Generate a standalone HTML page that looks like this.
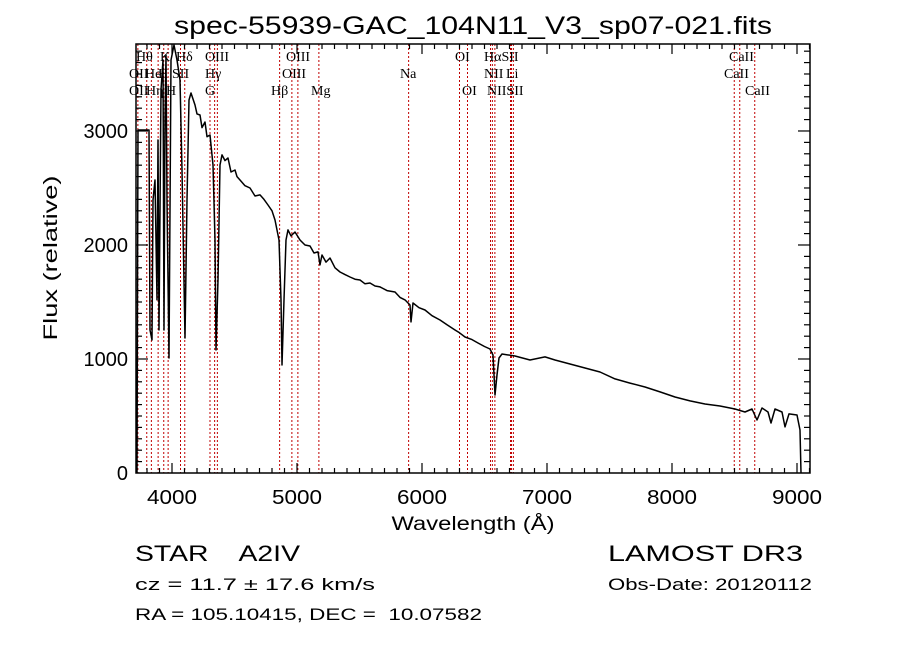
<!DOCTYPE html>
<html><head><meta charset="utf-8">
<style>
html,body{margin:0;padding:0;background:#fff;}
svg{display:block;}
text{fill:#000;white-space:pre;}
.s{font-family:"Liberation Sans",sans-serif;}
.r{font-family:"Liberation Serif",serif;font-size:14px;}
</style></head>
<body>
<svg id="chart" width="900" height="649" viewBox="0 0 900 649" xmlns="http://www.w3.org/2000/svg">
<rect x="0" y="0" width="900" height="649" fill="#fff"/>
<text class="s" x="473" y="34" font-size="25" text-anchor="middle" textLength="598" lengthAdjust="spacingAndGlyphs">spec-55939-GAC_104N11_V3_sp07-021.fits</text>
<g id="lines"></g>
<g id="labels">
<text class="r" x="136" y="61">Hθ</text>
<text class="r" x="160" y="61">K</text>
<text class="r" x="176" y="61">Hδ</text>
<text class="r" x="205" y="61">OIII</text>
<text class="r" x="286" y="61">OIII</text>
<text class="r" x="400" y="78">Na</text>
<text class="r" x="455" y="61">OI</text>
<text class="r" x="484" y="61">HαSII</text>
<text class="r" x="729" y="61">CaII</text>
<text class="r" x="129" y="78">OII</text>
<text class="r" x="145" y="78">He</text>
<text class="r" x="158" y="78">H</text>
<text class="r" x="172" y="78">SII</text>
<text class="r" x="205" y="78">Hγ</text>
<text class="r" x="282" y="78">OIII</text>
<text class="r" x="484" y="78">NII</text>
<text class="r" x="506" y="78">Li</text>
<text class="r" x="724" y="78">CaII</text>
<text class="r" x="129" y="95">OII</text>
<text class="r" x="146" y="95">Hη</text>
<text class="r" x="166" y="95">H</text>
<text class="r" x="205" y="95">G</text>
<text class="r" x="271" y="95">Hβ</text>
<text class="r" x="311" y="95">Mg</text>
<text class="r" x="462" y="95">OI</text>
<text class="r" x="487" y="95">NIISII</text>
<text class="r" x="745" y="95">CaII</text>
</g>
<g id="axes"></g>
<polyline id="spec" fill="none" stroke="#000" stroke-width="1.5" stroke-linejoin="round"/>
<text class="s" x="473" y="530" font-size="19" text-anchor="middle" textLength="163" lengthAdjust="spacingAndGlyphs">Wavelength (Å)</text>
<text class="s" x="0" y="0" font-size="19" text-anchor="middle" textLength="165" lengthAdjust="spacingAndGlyphs" transform="translate(57,258) rotate(-90)">Flux (relative)</text>
<text class="s" x="135" y="561" font-size="22" textLength="165" lengthAdjust="spacingAndGlyphs">STAR    A2IV</text>
<text class="s" x="135" y="590" font-size="17" textLength="240" lengthAdjust="spacingAndGlyphs">cz = 11.7 ± 17.6 km/s</text>
<text class="s" x="135" y="620" font-size="17" textLength="347" lengthAdjust="spacingAndGlyphs">RA = 105.10415, DEC =  10.07582</text>
<text class="s" x="608" y="561" font-size="22" textLength="195" lengthAdjust="spacingAndGlyphs">LAMOST DR3</text>
<text class="s" x="608" y="590" font-size="17" textLength="204" lengthAdjust="spacingAndGlyphs">Obs-Date: 20120112</text>
</svg>
<script>
const wavelengths=[3720,3724,3728,3736,3744,3752,3760,3768,3776,3784,3792,3800,3808,3816,3824,3840,3848,3864,3880,3888,3896,3912,3928,3936,3944,3952,3960,3976,3992,4016,4040,4064,4080,4104,4120,4136,4152,4184,4200,4224,4240,4264,4280,4304,4328,4344,4352,4368,4384,4400,4424,4448,4472,4504,4520,4544,4584,4624,4664,4704,4736,4768,4800,4824,4856,4872,4880,4896,4912,4928,4952,4984,5024,5064,5104,5136,5168,5184,5200,5232,5264,5304,5344,5384,5424,5464,5504,5544,5584,5624,5664,5720,5784,5824,5864,5904,5912,5928,5976,6024,6080,6144,6200,6264,6300,6344,6400,6448,6500,6544,6568,6576,6584,6600,6616,6640,6744,6864,6984,7064,7184,7304,7424,7544,7664,7784,7904,8024,8144,8264,8384,8504,8584,8640,8680,8720,8768,8792,8824,8880,8904,8936,9000,9024,9032];
const fluxes=[0,1600,3009,3009,3009,3009,3009,3009,3009,3009,3009,3009,3009,3009,1254,1167,2395,2570,1518,2921,1254,3360,3623,1254,3097,3667,2395,1009,3623,3754,3623,3447,2658,1184,2395,3272,3333,3228,3150,3140,3030,3079,2950,2965,2702,2044,1079,1693,2702,2790,2740,2763,2640,2658,2600,2570,2520,2500,2430,2439,2400,2351,2300,2219,2044,1518,947,1518,2044,2132,2080,2114,2044,2000,1991,1930,1939,1825,1912,1850,1886,1800,1763,1740,1719,1700,1693,1660,1667,1640,1632,1600,1588,1540,1518,1474,1325,1491,1450,1430,1380,1342,1300,1254,1230,1193,1170,1140,1110,1088,1035,860,684,860,1009,1044,1026,991,1018,991,956,921,886,825,789,754,711,667,632,605,588,561,535,561,465,570,535,439,561,535,404,518,509,377,0];
const lineWaves=[3727,3798,3835,3889,3934,3969,4102,4068,4304,4341,4363,4861,4959,5007,5175,5893,6300,6364,6548,6563,6583,6708,6716,6731,8498,8542,8662];
const xTicks=[4000,5000,6000,7000,8000,9000];
const yTicks=[0,1000,2000,3000];
const X0=136,X1=810,Y0=44,Y1=473;
const xMin=3712,xMax=9104,yMin=0,yMax=3763;
const sx=w=>X0+(w-xMin)/(xMax-xMin)*(X1-X0);
const sy=f=>Y1-(f-yMin)/(yMax-yMin)*(Y1-Y0);
const NS='http://www.w3.org/2000/svg';
const lg=document.getElementById('lines');
lineWaves.forEach(w=>{
 const l=document.createElementNS(NS,'line');
 l.setAttribute('x1',sx(w));l.setAttribute('x2',sx(w));
 l.setAttribute('y1',Y0);l.setAttribute('y2',Y1);
 l.setAttribute('stroke','#c00000');l.setAttribute('stroke-width','1');
 l.setAttribute('stroke-dasharray','2,2');
 
 
 lg.appendChild(l);
});
const ax=document.getElementById('axes');
function add(tag,attrs,name){const e=document.createElementNS(NS,tag);for(const k in attrs)e.setAttribute(k,attrs[k]);
 
 
 ax.appendChild(e);return e;}
add('rect',{x:X0,y:Y0,width:X1-X0,height:Y1-Y0,fill:'none',stroke:'#000','stroke-width':1.5},'plot-frame');
for(let w=3800;w<=9100;w+=100){
 const big=w%1000===0,len=big?10:5,x=sx(w);
 add('line',{x1:x,x2:x,y1:Y1,y2:Y1-len,stroke:'#000','stroke-width':1.2},'x-tick');
 add('line',{x1:x,x2:x,y1:Y0,y2:Y0+len,stroke:'#000','stroke-width':1.2},'x-tick-top');
}
for(let f=100;f<=3700;f+=100){
 const big=f%1000===0,len=big?12:6,y=sy(f);
 add('line',{x1:X0,x2:X0+len,y1:y,y2:y,stroke:'#000','stroke-width':1.2},'y-tick');
 add('line',{x1:X1,x2:X1-len,y1:y,y2:y,stroke:'#000','stroke-width':1.2},'y-tick-right');
}
xTicks.forEach(w=>{const t=add('text',{x:sx(w),y:504,'font-size':20,'text-anchor':'middle','font-family':'Liberation Sans, sans-serif',textLength:50,lengthAdjust:'spacingAndGlyphs'},'x-tick-label');t.textContent=w;});
yTicks.forEach(f=>{const t=add('text',{x:128,y:sy(f)+7,'font-size':20,'text-anchor':'end','font-family':'Liberation Sans, sans-serif'},'y-tick-label');t.textContent=f;});
document.getElementById('spec').setAttribute('points',wavelengths.map((w,i)=>sx(w).toFixed(1)+','+sy(fluxes[i]).toFixed(1)).join(' '));
</script>
</body></html>
